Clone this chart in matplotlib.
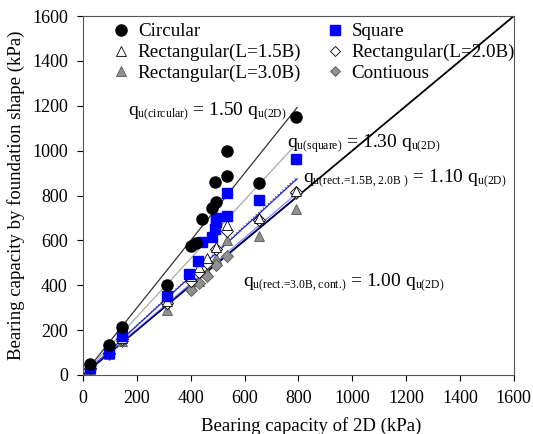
import numpy as np
import matplotlib
matplotlib.use("Agg")
import matplotlib.pyplot as plt
import matplotlib._mathtext as mt

plt.rcParams['font.family'] = ['Liberation Serif', 'DejaVu Serif']
plt.rcParams['mathtext.fontset'] = 'custom'
plt.rcParams['mathtext.rm'] = 'Liberation Serif'
plt.rcParams['mathtext.it'] = 'Liberation Serif'
mt.SHRINK_FACTOR = 0.6  # indices plus petits, comme sur la figure d'origine

# valeurs (kPa)
x_circ = [25, 95, 145, 310, 400, 420, 440, 480, 495, 490, 535, 535, 655, 790]
y_circ = [50, 135, 215, 400, 575, 590, 695, 745, 770, 860, 885, 1000, 855, 1150]

x_sq = [25, 95, 145, 310, 395, 425, 440, 480, 490, 495, 495, 535, 535, 655, 790]
y_sq = [30, 100, 175, 350, 450, 510, 595, 615, 650, 680, 700, 710, 810, 780, 965]

x_rect = [25, 95, 145, 310, 400, 430, 460, 495, 535, 655, 790]
y_r15 = [35, 105, 165, 330, 440, 480, 520, 570, 670, 700, 820]
y_r20 = [30, 100, 160, 320, 420, 460, 500, 560, 640, 690, 815]
y_r30 = [25, 95, 150, 290, 400, 420, 460, 520, 600, 620, 740]
y_cont = [25, 95, 150, 320, 380, 410, 440, 490, 530, 690, 810]

# pentes des droites de régression
pentes = [1.50, 1.30, 1.11, 1.10, 1.02, 1.00]
couleurs = ['#333333', '#aaaaaa', '#555555', '#2020dd', '#8888ff', '#000080']
styles = ['-', '-', ':', '-', '-', '-']
x_fit = np.array([0, 795])

fig = plt.figure(figsize=(5.33, 4.34), dpi=100)
ax = fig.add_axes([0.156, 0.136, 0.808, 0.827])

ax.plot([0, 1600], [0, 1600], color='black', lw=1.3, zorder=1)
for p, c, s in zip(pentes, couleurs, styles):
    ax.plot(x_fit, p * x_fit, color=c, ls=s, lw=0.9, zorder=1)

ms = 7.5
ax.plot(x_rect, y_r30, '^', mfc='#909090', mec='#555555', mew=0.6, ms=ms, ls='none', zorder=2)
ax.plot(x_rect, y_cont, 'D', mfc='#909090', mec='#555555', mew=0.6, ms=6, ls='none', zorder=2)
ax.plot(x_rect, y_r20, 'D', mfc='white', mec='black', mew=0.6, ms=6, ls='none', zorder=3)
ax.plot(x_rect, y_r15, '^', mfc='white', mec='black', mew=0.6, ms=ms, ls='none', zorder=3)
ax.plot(x_sq, y_sq, 's', mfc='#0000ff', mec='#0000ff', ms=7.5, ls='none', zorder=4)
ax.plot(x_circ, y_circ, 'o', mfc='black', mec='black', ms=8, ls='none', zorder=5)

# légende
h = [
    plt.Line2D([], [], marker='o', color='black', ls='none', ms=8),
    plt.Line2D([], [], marker='^', mfc='white', mec='black', mew=0.6, ls='none', ms=7),
    plt.Line2D([], [], marker='^', mfc='#909090', mec='#555555', mew=0.6, ls='none', ms=7),
    plt.Line2D([], [], marker='s', color='#0000ff', ls='none', ms=7),
    plt.Line2D([], [], marker='D', mfc='white', mec='black', mew=0.6, ls='none', ms=5.5),
    plt.Line2D([], [], marker='D', mfc='#909090', mec='#555555', mew=0.6, ls='none', ms=5.5),
]
etiquettes = ['Circular', 'Rectangular(L=1.5B)', 'Rectangular(L=3.0B)',
              'Square', 'Rectangular(L=2.0B)', 'Contiuous']
ax.legend(h, etiquettes, ncol=2, loc='upper left', bbox_to_anchor=(0.043, 1.012),
          frameon=False, fontsize=13.7, handlelength=0.8, handletextpad=0.5,
          columnspacing=1.35, labelspacing=0.18, borderaxespad=0.2)

fs = 14
ax.text(165, 1172, r'q$_{\text{u(circular)}}$ = 1.50 q$_{\text{u(2D)}}$', fontsize=fs, va='center')
ax.text(757, 1030, r'q$_{\text{u(square)}}$ = 1.30 q$_{\text{u(2D)}}$', fontsize=fs, va='center')
ax.text(817, 875, r'q$_{\text{u(rect.=1.5B, 2.0B )}}$ = 1.10 q$_{\text{u(2D)}}$', fontsize=fs, va='center')
ax.text(594, 410, r'q$_{\text{u(rect.=3.0B, cont.)}}$ = 1.00 q$_{\text{u(2D)}}$', fontsize=fs, va='center')

ax.set_xlim(0, 1600)
ax.set_ylim(0, 1600)
ax.set_xticks(np.arange(0, 1601, 200))
ax.set_yticks(np.arange(0, 1601, 200))
ax.tick_params(direction='out', labelsize=13, length=4, pad=7)
ax.set_xlabel('Bearing capacity of 2D (kPa)', fontsize=13.5)
ax.xaxis.set_label_coords(0.53, -0.118)
ax.set_ylabel('Bearing capacity by foundation shape (kPa)', fontsize=13.5, labelpad=5)
for s in ax.spines.values():
    s.set_color('#555555')

fig.savefig('out.png', dpi=100)
